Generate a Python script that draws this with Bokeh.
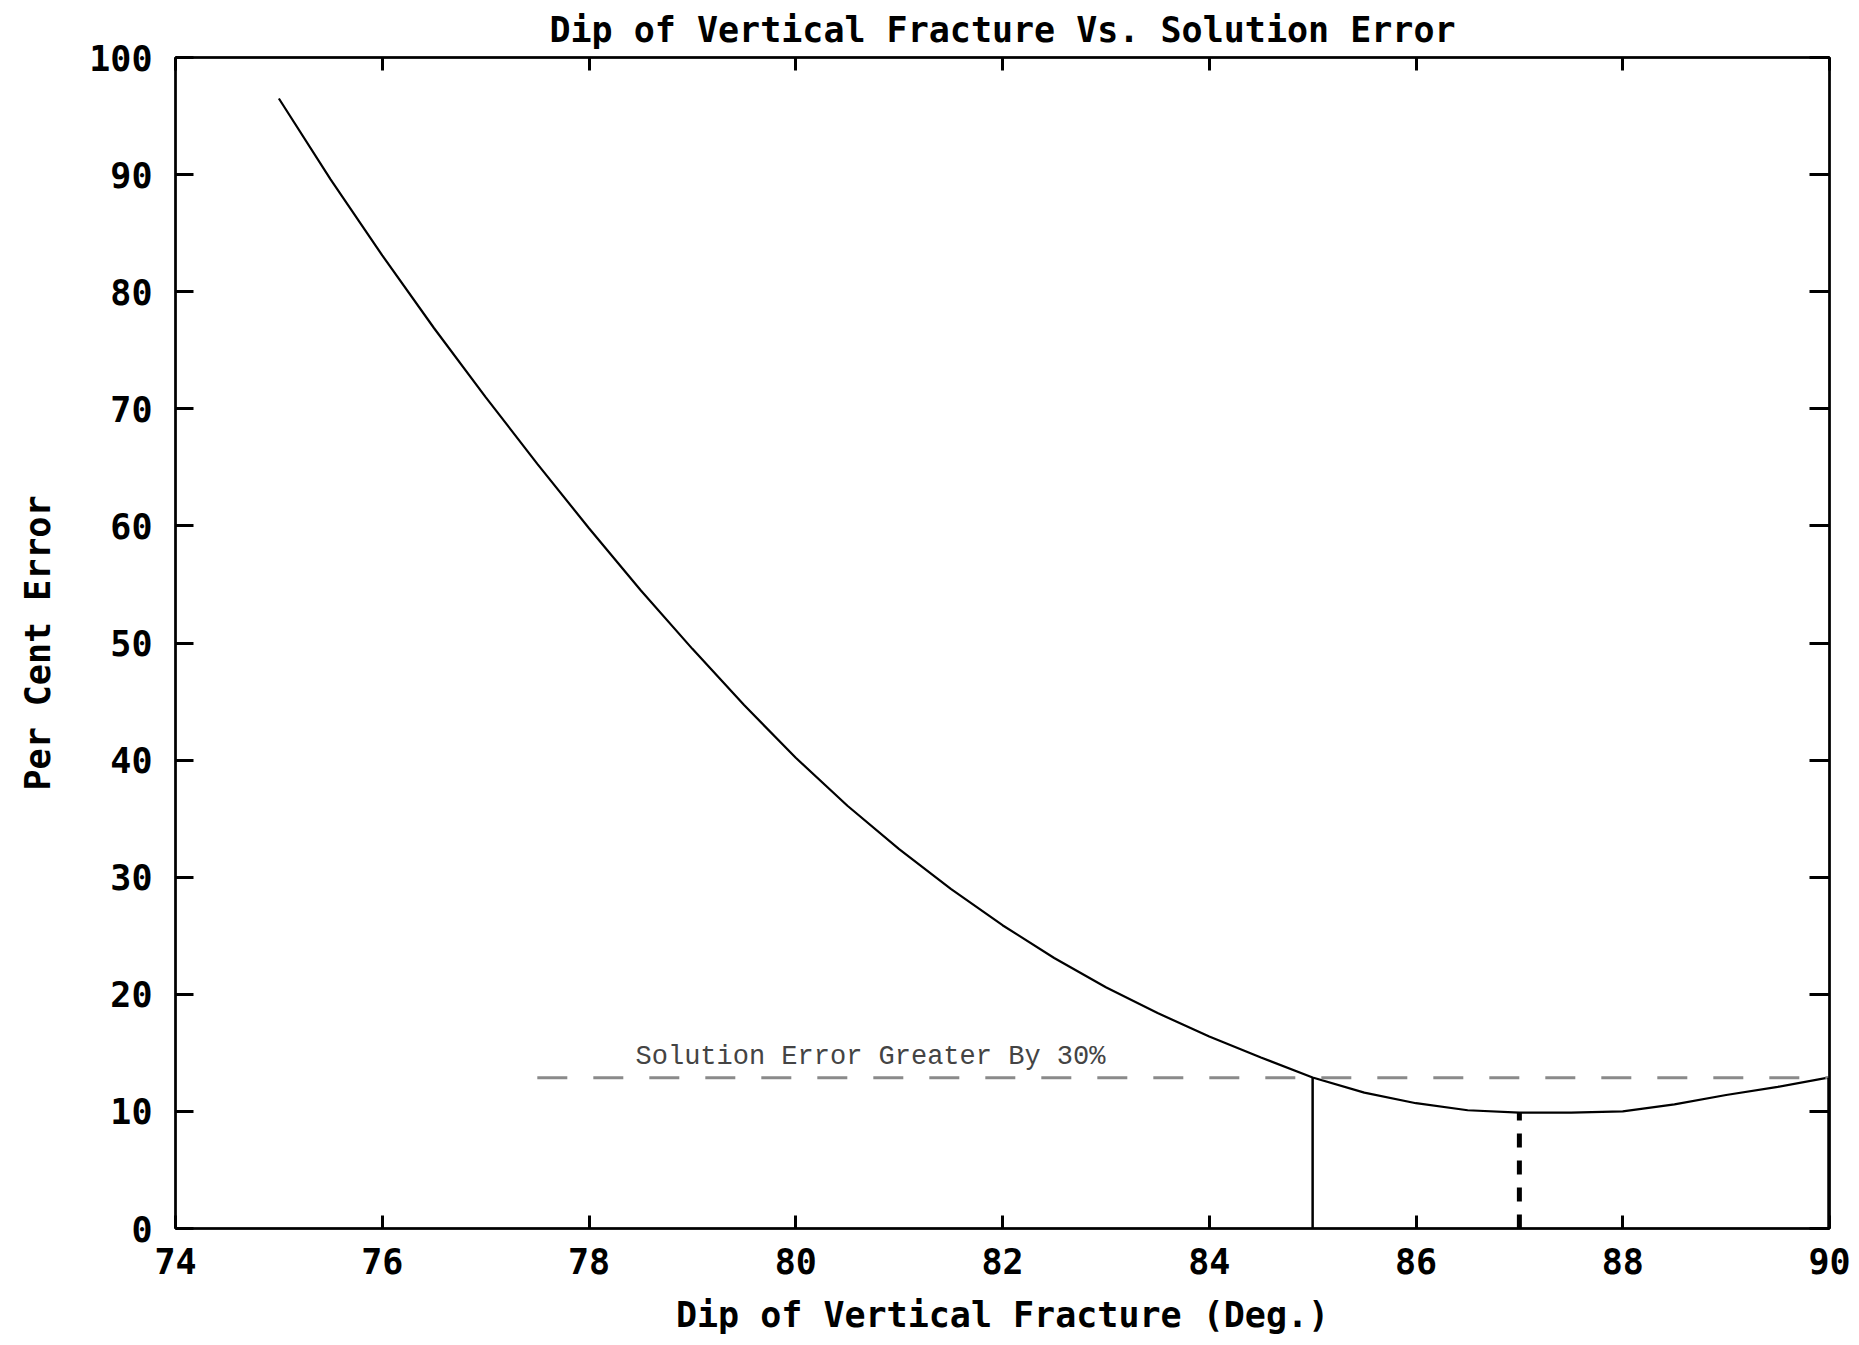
from bokeh.plotting import figure
from bokeh.models import LinearAxis, FixedTicker, Range1d, Label
from bokeh.embed import file_html
from bokeh.resources import INLINE

# Dip of vertical fracture (degrees) and the resulting solution error (%)
dip_deg = [75.0, 75.5, 76.0, 76.5, 77.0, 77.5, 78.0, 78.5, 79.0, 79.5,
           80.0, 80.5, 81.0, 81.5, 82.0, 82.5, 83.0, 83.5, 84.0, 84.5,
           85.0, 85.5, 86.0, 86.5, 87.0, 87.5, 88.0, 88.5, 89.0, 89.5, 90.0]
error_pct = [96.5, 89.6, 83.1, 76.9, 71.0, 65.3, 59.8, 54.5, 49.5, 44.7,
             40.2, 36.1, 32.4, 29.0, 25.9, 23.1, 20.6, 18.4, 16.4, 14.6,
             12.9, 11.6, 10.7, 10.1, 9.9, 9.9, 10.0, 10.6, 11.4, 12.1, 12.9]

x_ticks = [74, 76, 78, 80, 82, 84, 86, 88, 90]
y_ticks = [0, 10, 20, 30, 40, 50, 60, 70, 80, 90, 100]

# band where the error stays within 30% of the minimum
excess_factor = 1.30
band_left = 85.0
band_right = 90.0
best_dip = 87.0
threshold_start = 77.5

min_error = min(error_pct)
threshold = min_error * excess_factor
best_error = error_pct[dip_deg.index(best_dip)]

BOLD_FONT = "DejaVu Sans Mono"
BOLD_SIZE = "35px"

p = figure(width=1859, height=1345, output_backend="svg", toolbar_location=None,
           x_range=Range1d(74, 90), y_range=Range1d(0, 100),
           x_axis_location=None, y_axis_location=None,
           min_border_left=175, min_border_right=30,
           min_border_top=55, min_border_bottom=117,
           title="Dip of Vertical Fracture Vs. Solution Error")
p.background_fill_color = "white"
p.border_fill_color = "white"
p.outline_line_color = "black"
p.outline_line_width = 2
p.grid.visible = False

p.title.align = "center"
p.title.text_font = BOLD_FONT
p.title.text_font_size = BOLD_SIZE
p.title.text_font_style = "bold"
p.title.text_color = "black"
p.title.standoff = 15


def style_axis(ax, tick_len, show_labels):
    ax.major_tick_in = tick_len
    ax.major_tick_out = 0
    ax.minor_tick_line_color = None
    ax.axis_line_color = "black"
    ax.axis_line_width = 2.5
    ax.major_tick_line_color = "black"
    ax.major_tick_line_width = 3
    if show_labels:
        ax.major_label_text_font = BOLD_FONT
        ax.major_label_text_font_size = BOLD_SIZE
        ax.major_label_text_font_style = "bold"
        ax.major_label_text_color = "black"
        ax.axis_label_text_font = BOLD_FONT
        ax.axis_label_text_font_size = BOLD_SIZE
        ax.axis_label_text_font_style = "bold"
        ax.axis_label_text_color = "black"
    else:
        # tick marks only on the top and right sides
        ax.major_label_overrides = {t: "" for t in ax.ticker.ticks}
        ax.major_label_text_font_size = "1px"
        ax.major_label_standoff = 0


xb = LinearAxis(ticker=FixedTicker(ticks=x_ticks), axis_label="Dip of Vertical Fracture (Deg.)")
style_axis(xb, 13, True)
xb.major_label_standoff = 19
xb.axis_label_standoff = 18
p.add_layout(xb, "below")

yl = LinearAxis(ticker=FixedTicker(ticks=y_ticks), axis_label="Per Cent Error")
style_axis(yl, 18, True)
yl.major_label_standoff = 23
yl.axis_label_standoff = 28
p.add_layout(yl, "left")

xt = LinearAxis(ticker=FixedTicker(ticks=x_ticks))
style_axis(xt, 13, False)
p.add_layout(xt, "above")

yr = LinearAxis(ticker=FixedTicker(ticks=y_ticks))
style_axis(yr, 20, False)
p.add_layout(yr, "right")

# error curve
p.line(dip_deg, error_pct, line_color="black", line_width=2.2)

# threshold: 30% above the minimum error
p.segment(x0=[threshold_start], y0=[threshold], x1=[band_right], y1=[threshold],
          line_color="#8a8a8a", line_width=3, line_dash="30 26")

# bounds of the acceptable dip band
p.segment(x0=[band_left], y0=[0], x1=[band_left], y1=[threshold],
          line_color="black", line_width=2.5)
p.segment(x0=[band_right], y0=[0], x1=[band_right], y1=[threshold],
          line_color="black", line_width=4.5)

# dip of minimum error
p.segment(x0=[best_dip], y0=[0], x1=[best_dip], y1=[best_error],
          line_color="black", line_width=5, line_dash="14 13")

p.add_layout(Label(x=78.45, y=threshold + 0.5, text="Solution Error Greater By 30%",
                   text_font="Liberation Mono", text_font_size="27px",
                   text_color="#444444", text_baseline="bottom", text_align="left"))

open("out.html", "w").write(file_html(p, INLINE))
